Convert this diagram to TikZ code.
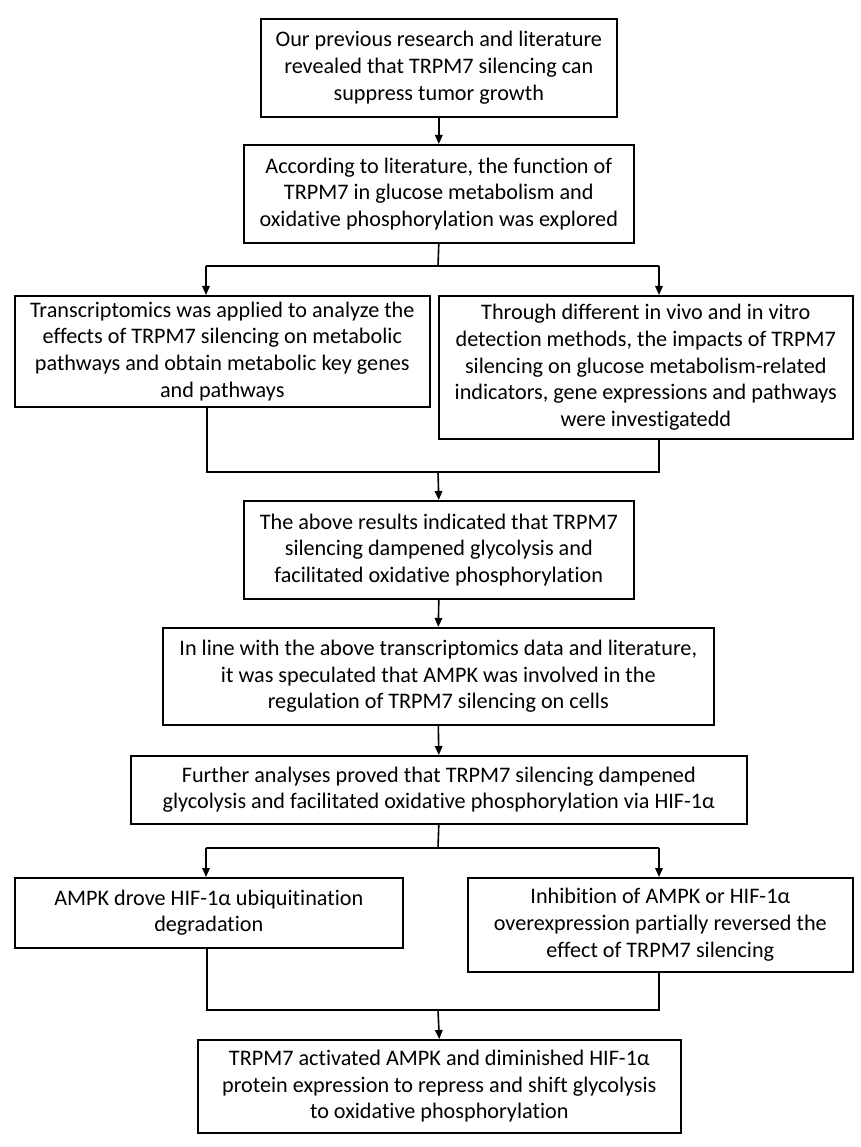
\documentclass[tikz,border=0pt]{standalone}
\usepackage{fontspec}
\setmainfont{Carlito}[Ligatures=NoCommon]
\usetikzlibrary{arrows.meta}
\begin{document}
\begin{tikzpicture}[x=1pt,y=-1pt,
  box/.style={draw=black,line width=1.6pt,anchor=north west,inner sep=0pt,align=center,
    font=\fontsize{22.2pt}{26.7pt}\selectfont},
  conn/.style={line width=1.6pt},
  arr/.style={line width=1.6pt,-{Triangle[length=9pt,width=7.5pt]}}]
\useasboundingbox (0,0) rectangle (860,1147);
\fill[white] (0,0) rectangle (860,1147);

\node[box,minimum width=356pt,minimum height=98pt] (b1) at (260,18)
  {Our previous research and literature\\revealed that TRPM7 silencing can\\suppress tumor growth};
\node[box,minimum width=390pt,minimum height=98pt] (b2) at (243,144)
  {According to literature, the function of\\TRPM7 in glucose metabolism and\\oxidative phosphorylation was explored};
\node[box,minimum width=415pt,minimum height=111pt] (b3) at (14,295)
  {Transcriptomics was applied to analyze the\\effects of TRPM7 silencing on metabolic\\pathways and obtain metabolic key genes\\and pathways};
\node[box,minimum width=414pt,minimum height=143pt] (b4) at (438,295)
  {Through different in vivo and in vitro\\detection methods, the impacts of TRPM7\\silencing on glucose metabolism-related\\indicators, gene expressions and pathways\\were investigatedd};
\node[box,minimum width=390pt,minimum height=98pt] (b5) at (243,500)
  {The above results indicated that TRPM7\\silencing dampened glycolysis and\\facilitated oxidative phosphorylation};
\node[box,minimum width=551pt,minimum height=97pt] (b6) at (162,627)
  {In line with the above transcriptomics data and literature,\\it was speculated that AMPK was involved in the\\regulation of TRPM7 silencing on cells};
\node[box,minimum width=616pt,minimum height=68pt] (b7) at (130,755)
  {Further analyses proved that TRPM7 silencing dampened\\glycolysis and facilitated oxidative phosphorylation via HIF-1α};
\node[box,minimum width=388pt,minimum height=70pt] (b8) at (14,877)
  {AMPK drove HIF-1α ubiquitination\\degradation};
\node[box,minimum width=385pt,minimum height=94pt] (b9) at (467,877)
  {Inhibition of AMPK or HIF-1α\\overexpression partially reversed the\\effect of TRPM7 silencing};
\node[box,minimum width=483pt,minimum height=93pt] (b10) at (197,1039)
  {TRPM7 activated AMPK and diminished HIF-1α\\protein expression to repress and shift glycolysis\\to oxidative phosphorylation};

% connectors
\draw[arr] (b1.south) -- (b2.north);

\coordinate (j1) at (438,266);
\coordinate (j1l) at (206,266);
\coordinate (j1r) at (659,266);
\draw[conn] (b2.south) -- (j1);
\draw[conn] (j1l) -- (j1r);
\draw[arr] (j1l) -- (j1l |- b3.north);
\draw[arr] (j1r) -- (j1r |- b4.north);

\coordinate (m1) at (438,472);
\coordinate (m1l) at (207,472);
\coordinate (m1r) at (659,472);
\draw[conn] (m1l |- b3.south) -- (m1l) -- (m1r) -- (m1r |- b4.south);
\draw[arr] (m1) -- (b5.north);

\draw[arr] (b5.south) -- (b6.north);
\draw[arr] (b6.south) -- (b7.north);

\coordinate (j2) at (438,848);
\coordinate (j2l) at (206,848);
\coordinate (j2r) at (659,848);
\draw[conn] (b7.south) -- (j2);
\draw[conn] (j2l) -- (j2r);
\draw[arr] (j2l) -- (j2l |- b8.north);
\draw[arr] (j2r) -- (j2r |- b9.north);

\coordinate (m2) at (438,1010);
\coordinate (m2l) at (207,1010);
\coordinate (m2r) at (659,1010);
\draw[conn] (m2l |- b8.south) -- (m2l) -- (m2r) -- (m2r |- b9.south);
\draw[arr] (m2) -- (b10.north);
\end{tikzpicture}
\end{document}
